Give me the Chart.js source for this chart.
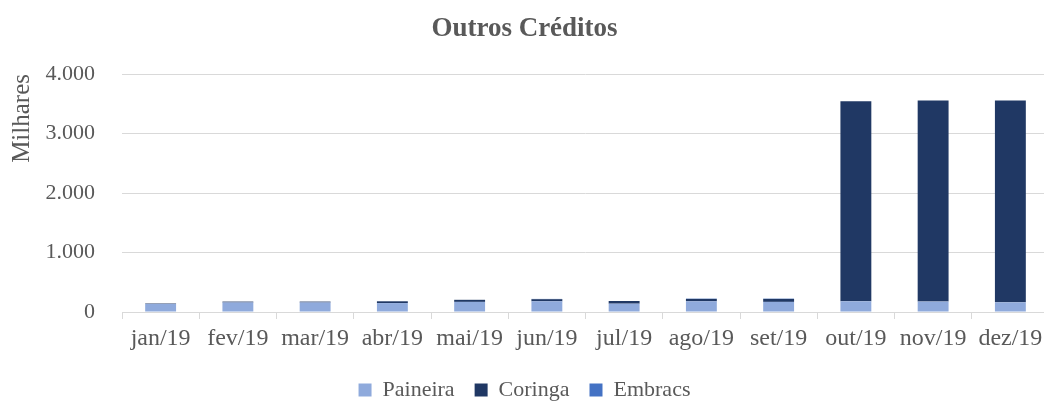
<!DOCTYPE html>
<html>
<head>
<meta charset="utf-8">
<script src="https://cdn.jsdelivr.net/npm/chart.js@4/dist/chart.umd.min.js"></script>
<style>
html,body{margin:0;padding:0;background:#fff;overflow:hidden;width:1044px;height:401px;}
#c{display:block;}
</style>
</head>
<body>
<canvas id="c" width="1049" height="401"></canvas>
<script>
const categories = ['jan/19','fev/19','mar/19','abr/19','mai/19','jun/19','jul/19','ago/19','set/19','out/19','nov/19','dez/19'];
const paineira = [135, 160, 160, 150, 170, 180, 140, 180, 170, 180, 175, 163];
const coringa  = [8, 15, 15, 30, 35, 35, 45, 40, 50, 3361, 3378, 3390];
const embracs  = [0, 0, 0, 0, 0, 5, 0, 5, 5, 0, 0, 0];
const yTicks = [0, 1000, 2000, 3000, 4000];

const FONT = "Liberation Serif";
const TXT = '#595959';
Chart.defaults.font.family = FONT;
Chart.defaults.color = TXT;

function fmt(v){ return String(v).replace(/\B(?=(\d{3})+(?!\d))/g, '.'); }

new Chart(document.getElementById('c'), {
  type: 'bar',
  data: {
    labels: categories,
    datasets: [
      { label: 'Paineira', data: paineira, backgroundColor: '#8FAADC' },
      { label: 'Coringa', data: coringa, backgroundColor: '#203864' },
      { label: 'Embracs', data: embracs, backgroundColor: '#4472C4' }
    ]
  },
  options: {
    responsive: false,
    animation: false,
    layout: { padding: { left: 0, right: 0, top: 0, bottom: -10 } },
    datasets: { bar: { categoryPercentage: 0.8, barPercentage: 0.5, borderWidth: 0 } },
    plugins: {
      title: {
        display: true,
        text: 'Outros Créditos',
        color: TXT,
        font: { family: FONT, size: 27, weight: 'bold' },
        padding: { top: 13, bottom: 28.6 }
      },
      legend: {
        position: 'bottom',
        labels: {
          color: TXT,
          font: { family: FONT, size: 22 },
          boxWidth: 13,
          boxHeight: 13,
          padding: 20
        }
      },
      tooltip: { enabled: false }
    },
    scales: {
      x: {
        stacked: true,
        border: { display: true, color: '#d9d9d9', width: 1 },
        grid: { display: true, drawOnChartArea: false, drawTicks: true, tickLength: 7, color: '#d9d9d9', offset: true },
        ticks: { color: TXT, font: { family: FONT, size: 24 }, maxRotation: 0, autoSkip: false, padding: 5 },
        afterFit: s => { s.height = 47; }
      },
      y: {
        stacked: true,
        min: 0, max: 4000,
        border: { display: false },
        grid: { color: '#d9d9d9', lineWidth: 1, drawTicks: false },
        afterBuildTicks: s => { s.ticks = yTicks.map(v => ({ value: v })); },
        ticks: { color: TXT, font: { family: FONT, size: 22 }, padding: 27, callback: v => fmt(v) },
        title: { display: true, text: 'Milhares', align: 'end', color: TXT, font: { family: FONT, size: 25 }, padding: { top: 7, bottom: 0 } },
        afterFit: s => { s.width = 122; }
      }
    }
  }
});
</script>
</body>
</html>
